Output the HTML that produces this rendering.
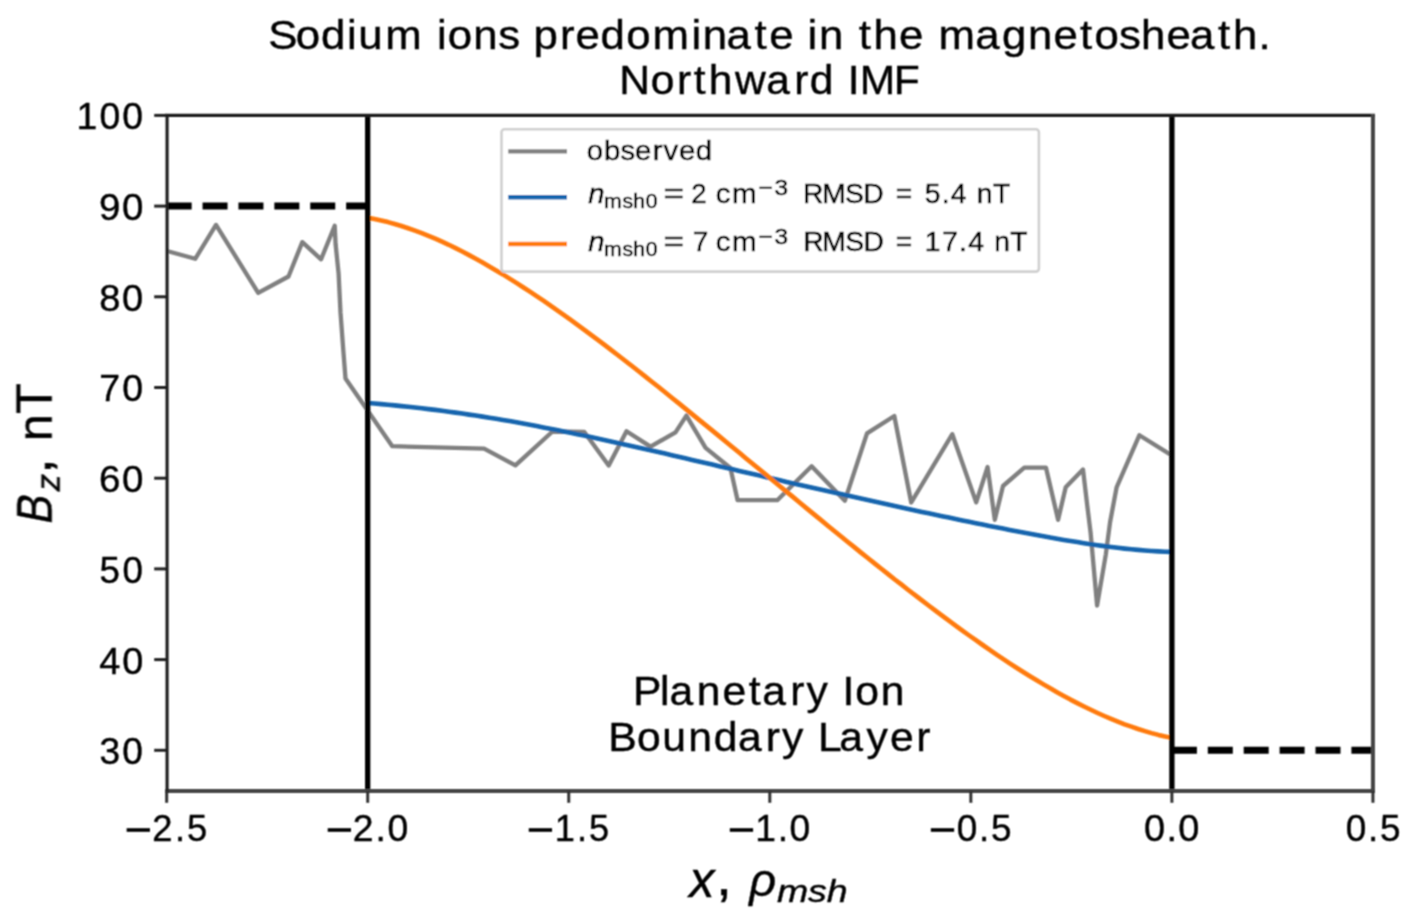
<!DOCTYPE html><html><head><meta charset="utf-8"><style>html,body{margin:0;padding:0;background:#fff;}svg{display:block;}text{font-family:"Liberation Sans",sans-serif;fill:#000;stroke:#000;stroke-width:0.4px;font-kerning:none;font-variant-ligatures:none;}.leg text{stroke-width:0.5px;}</style></head><body>
<svg width="1407" height="922" viewBox="0 0 1407 922">
<defs><filter id="soft" x="0" y="0" width="1407" height="922" filterUnits="userSpaceOnUse"><feConvolveMatrix order="3" kernelMatrix="1 2 1 2 4 2 1 2 1" divisor="16" edgeMode="duplicate"/></filter></defs>
<rect width="1407" height="922" fill="#fff"/>
<g filter="url(#soft)">
<text x="252.58 278.59 302.29 326.94 337.45 362.79 398.56 411.53 421.71 445.70 469.21 489.25 502.40 527.56 542.02 565.72 589.88 614.70 651.25 661.92 684.30 710.69 724.47 747.67 760.64 771.32 794.87 808.76 822.84 846.87 870.07 883.90 918.50 943.69 968.35 992.32 1017.21 1030.85 1054.02 1074.78 1098.81 1120.84 1147.23 1161.30 1185.27" y="49.30" transform="scale(1.0617,1)" font-size="41.24">Sodium ions predominate in the magnetosheath.</text>
<text x="601.62 632.05 657.71 673.91 688.63 713.95 744.29 771.47 786.59 810.91 823.63 835.13 868.16" y="94.10" transform="scale(1.0294,1)" font-size="41.32">Northward IMF</text>
<polyline points="167.0,251.0 195.2,258.8 216.0,224.9 258.2,292.9 288.5,276.5 302.3,242.1 321.1,259.3 334.7,225.7 335.6,244.3 338.6,273.6 340.5,312.7 343.4,351.7 345.5,378.5 392.3,446.2 484.1,448.6 515.4,465.4 552.5,431.5 584.3,432.0 608.7,465.6 626.5,431.2 650.5,446.6 675.5,432.4 686.4,415.6 705.6,447.9 730.4,468.0 737.6,500.2 777.3,500.2 811.6,466.3 844.9,500.7 867.0,433.4 894.3,416.0 911.2,502.5 952.3,434.2 976.2,502.4 987.6,467.0 994.8,519.8 1003.0,486.0 1024.3,467.7 1046.0,467.7 1058.1,519.8 1065.7,487.2 1083.0,469.5 1087.4,506.8 1090.6,532.8 1097.1,605.5 1105.8,554.5 1110.1,522.0 1116.6,487.3 1139.4,435.2 1171.0,455.0" fill="none" stroke="#808080" stroke-width="4.3" stroke-linejoin="round"/>
<polyline points="367.7,403.0 374.5,403.5 381.2,404.1 388.0,404.7 394.7,405.4 401.5,406.1 408.2,406.8 415.0,407.5 421.8,408.3 428.5,409.1 435.3,409.9 442.0,410.8 448.8,411.7 455.6,412.6 462.3,413.6 469.1,414.6 475.8,415.6 482.6,416.6 489.3,417.7 496.1,418.8 502.9,420.0 509.6,421.1 516.4,422.3 523.1,423.6 529.9,424.8 536.6,426.1 543.4,427.4 550.2,428.7 556.9,430.0 563.7,431.4 570.4,432.8 577.2,434.2 584.0,435.6 590.7,437.0 597.5,438.5 604.2,439.9 611.0,441.4 617.7,442.9 624.5,444.4 631.3,445.9 638.0,447.5 644.8,449.0 651.5,450.5 658.3,452.1 665.1,453.6 671.8,455.2 678.6,456.8 685.3,458.3 692.1,459.9 698.8,461.5 705.6,463.0 712.4,464.6 719.1,466.2 725.9,467.8 732.6,469.3 739.4,470.9 746.1,472.5 752.9,474.1 759.7,475.6 766.4,477.2 773.2,478.7 779.9,480.3 786.7,481.9 793.5,483.4 800.2,484.9 807.0,486.5 813.7,488.0 820.5,489.5 827.2,491.1 834.0,492.6 840.8,494.1 847.5,495.6 854.3,497.1 861.0,498.6 867.8,500.1 874.5,501.6 881.3,503.1 888.1,504.6 894.8,506.0 901.6,507.5 908.3,509.0 915.1,510.4 921.9,511.9 928.6,513.3 935.4,514.7 942.1,516.2 948.9,517.6 955.6,519.0 962.4,520.4 969.2,521.8 975.9,523.2 982.7,524.6 989.4,525.9 996.2,527.3 1003.0,528.6 1009.7,530.0 1016.5,531.3 1023.2,532.6 1030.0,533.8 1036.7,535.1 1043.5,536.3 1050.3,537.6 1057.0,538.7 1063.8,539.9 1070.5,541.0 1077.3,542.1 1084.0,543.2 1090.8,544.2 1097.6,545.2 1104.3,546.1 1111.1,547.0 1117.8,547.8 1124.6,548.6 1131.4,549.3 1138.1,549.9 1144.9,550.5 1151.6,551.0 1158.4,551.4 1165.1,551.7 1171.9,551.9" fill="none" stroke="#1465ae" stroke-width="4.6" stroke-linejoin="round"/>
<polyline points="367.7,217.8 374.5,219.1 381.2,220.5 388.0,222.1 394.7,224.0 401.5,226.0 408.2,228.2 415.0,230.6 421.8,233.1 428.5,235.8 435.3,238.7 442.0,241.7 448.8,244.8 455.6,248.1 462.3,251.5 469.1,255.1 475.8,258.7 482.6,262.5 489.3,266.4 496.1,270.4 502.9,274.4 509.6,278.6 516.4,282.9 523.1,287.2 529.9,291.7 536.6,296.2 543.4,300.7 550.2,305.4 556.9,310.1 563.7,314.9 570.4,319.7 577.2,324.6 584.0,329.6 590.7,334.6 597.5,339.6 604.2,344.7 611.0,349.9 617.7,355.0 624.5,360.3 631.3,365.5 638.0,370.8 644.8,376.1 651.5,381.5 658.3,386.8 665.1,392.2 671.8,397.7 678.6,403.1 685.3,408.6 692.1,414.1 698.8,419.6 705.6,425.1 712.4,430.6 719.1,436.1 725.9,441.7 732.6,447.2 739.4,452.8 746.1,458.4 752.9,464.0 759.7,469.5 766.4,475.1 773.2,480.7 779.9,486.3 786.7,491.9 793.5,497.4 800.2,503.0 807.0,508.6 813.7,514.1 820.5,519.6 827.2,525.2 834.0,530.7 840.8,536.2 847.5,541.7 854.3,547.1 861.0,552.6 867.8,558.0 874.5,563.4 881.3,568.8 888.1,574.1 894.8,579.5 901.6,584.7 908.3,590.0 915.1,595.2 921.9,600.4 928.6,605.5 935.4,610.7 942.1,615.7 948.9,620.7 955.6,625.7 962.4,630.6 969.2,635.5 975.9,640.2 982.7,645.0 989.4,649.7 996.2,654.3 1003.0,658.8 1009.7,663.3 1016.5,667.7 1023.2,672.0 1030.0,676.2 1036.7,680.3 1043.5,684.4 1050.3,688.3 1057.0,692.2 1063.8,695.9 1070.5,699.6 1077.3,703.1 1084.0,706.5 1090.8,709.8 1097.6,713.0 1104.3,716.0 1111.1,718.9 1117.8,721.6 1124.6,724.3 1131.4,726.7 1138.1,729.0 1144.9,731.1 1151.6,733.1 1158.4,734.9 1165.1,736.5 1171.9,737.9" fill="none" stroke="#ff7a0a" stroke-width="4.6" stroke-linejoin="round"/>
<line x1="166.65" y1="206.10" x2="367.70" y2="206.10" stroke="#000" stroke-width="7.0" stroke-dasharray="25.0 10.9"/>
<line x1="1171.90" y1="750.30" x2="1372.95" y2="750.30" stroke="#000" stroke-width="7.0" stroke-dasharray="25.0 10.9"/>
<line x1="367.70" y1="115.4" x2="367.70" y2="790.9" stroke="#000" stroke-width="5.3"/>
<line x1="1171.90" y1="115.4" x2="1171.90" y2="790.9" stroke="#000" stroke-width="5.3"/>
<line x1="165.15" y1="115.4" x2="1374.95" y2="115.4" stroke="#1c1c1c" stroke-width="3.1"/>
<line x1="165.15" y1="790.9" x2="1374.95" y2="790.9" stroke="#444" stroke-width="4.0"/>
<line x1="167.1" y1="113.9" x2="167.1" y2="792.9" stroke="#1c1c1c" stroke-width="3.1"/>
<line x1="1372.95" y1="113.9" x2="1372.95" y2="792.9" stroke="#444" stroke-width="4.0"/>
<line x1="154.2" y1="750.30" x2="166.65" y2="750.30" stroke="#222" stroke-width="3.0"/>
<text x="97.48 119.80" y="764.30" transform="scale(1.0212,1)" font-size="36.33">30</text>
<line x1="154.2" y1="659.60" x2="166.65" y2="659.60" stroke="#222" stroke-width="3.0"/>
<text x="95.30 117.23" y="673.60" transform="scale(1.0418,1)" font-size="36.33">40</text>
<line x1="154.2" y1="568.90" x2="166.65" y2="568.90" stroke="#222" stroke-width="3.0"/>
<text x="98.21 120.91" y="582.90" transform="scale(1.0126,1)" font-size="36.33">50</text>
<line x1="154.2" y1="478.20" x2="166.65" y2="478.20" stroke="#222" stroke-width="3.0"/>
<text x="93.53 115.09" y="492.20" transform="scale(1.0596,1)" font-size="36.33">60</text>
<line x1="154.2" y1="387.50" x2="166.65" y2="387.50" stroke="#222" stroke-width="3.0"/>
<text x="96.38 118.61" y="401.50" transform="scale(1.0307,1)" font-size="36.33">70</text>
<line x1="154.2" y1="296.80" x2="166.65" y2="296.80" stroke="#222" stroke-width="3.0"/>
<text x="94.75 116.56" y="310.80" transform="scale(1.0473,1)" font-size="36.33">80</text>
<line x1="154.2" y1="206.10" x2="166.65" y2="206.10" stroke="#222" stroke-width="3.0"/>
<text x="93.53 115.21" y="220.10" transform="scale(1.0586,1)" font-size="36.33">90</text>
<line x1="154.2" y1="115.40" x2="166.65" y2="115.40" stroke="#222" stroke-width="3.0"/>
<text x="74.39 96.81 119.04" y="129.40" transform="scale(1.0272,1)" font-size="36.33">100</text>
<line x1="166.65" y1="790.9" x2="166.65" y2="802.8" stroke="#333" stroke-width="3.0"/>
<rect x="126.65" y="828.2" width="23.3" height="3.6" fill="#000"/>
<text x="152.27 174.91 186.84" y="841.00" transform="scale(1.0005,1)" font-size="36.33">2.5</text>
<line x1="367.70" y1="790.9" x2="367.70" y2="802.8" stroke="#333" stroke-width="3.0"/>
<rect x="327.70" y="828.2" width="23.3" height="3.6" fill="#000"/>
<text x="343.26 365.43 377.05" y="841.00" transform="scale(1.0276,1)" font-size="36.33">2.0</text>
<line x1="568.75" y1="790.9" x2="568.75" y2="802.8" stroke="#333" stroke-width="3.0"/>
<rect x="528.75" y="828.2" width="23.3" height="3.6" fill="#000"/>
<text x="556.77 579.18 591.18" y="841.00" transform="scale(0.9964,1)" font-size="36.33">1.5</text>
<line x1="769.80" y1="790.9" x2="769.80" y2="802.8" stroke="#333" stroke-width="3.0"/>
<rect x="729.80" y="828.2" width="23.3" height="3.6" fill="#000"/>
<text x="737.28 759.22 770.90" y="841.00" transform="scale(1.0243,1)" font-size="36.33">1.0</text>
<line x1="970.85" y1="790.9" x2="970.85" y2="802.8" stroke="#333" stroke-width="3.0"/>
<rect x="930.85" y="828.2" width="23.3" height="3.6" fill="#000"/>
<text x="940.19 962.06 973.71" y="841.00" transform="scale(1.0177,1)" font-size="36.33">0.5</text>
<line x1="1171.90" y1="790.9" x2="1171.90" y2="802.8" stroke="#333" stroke-width="3.0"/>
<text x="1095.67 1117.11 1128.47" y="841.00" transform="scale(1.0442,1)" font-size="36.33">0.0</text>
<line x1="1372.95" y1="790.9" x2="1372.95" y2="802.8" stroke="#333" stroke-width="3.0"/>
<text x="1322.39 1344.27 1355.91" y="841.00" transform="scale(1.0177,1)" font-size="36.33">0.5</text>
<rect x="501.5" y="129.2" width="537.4" height="142.4" rx="3" ry="3" fill="#fff" fill-opacity="0.85" stroke="#d0d0d0" stroke-width="2.6"/>
<line x1="508.2" y1="151.4" x2="567" y2="151.4" stroke="#808080" stroke-width="4.3"/>
<line x1="508.2" y1="197.3" x2="567" y2="197.3" stroke="#1465ae" stroke-width="4.6"/>
<line x1="508.2" y1="244" x2="567" y2="244" stroke="#ff7a0a" stroke-width="4.6"/>
<g class="leg">
<text x="550.49 566.54 582.08 595.67 612.26 622.28 636.96 652.71" y="159.80" transform="scale(1.0661,1)" font-size="27.52">observed</text>
<text x="554.06" y="203.10" transform="scale(1.0615,1)" font-size="27.52" font-style="italic">n</text>
<text x="571.54 588.95 599.07 610.94" y="207.90" transform="scale(1.0569,1)" font-size="20.02">msh0</text>
<text x="521.09" y="203.10" transform="scale(1.2733,1)" font-size="27.52">=</text>
<text x="688.38" y="203.10" transform="scale(1.0041,1)" font-size="27.52">2</text>
<text x="666.05 681.12" y="203.10" transform="scale(1.0748,1)" font-size="27.52">cm</text>
<text x="666.21 680.31" y="195.30" transform="scale(1.1385,1)" font-size="21.53">−3</text>
<text x="783.21 801.92 824.20 841.98 862.08 873.59 892.74 901.84 918.42 927.25 943.35 952.59 968.30" y="203.10" transform="scale(1.0254,1)" font-size="27.52">RMSD = 5.4 nT</text>
<text x="554.06" y="251.50" transform="scale(1.0615,1)" font-size="27.52" font-style="italic">n</text>
<text x="571.54 588.95 599.07 610.94" y="256.30" transform="scale(1.0569,1)" font-size="20.02">msh0</text>
<text x="521.09" y="251.50" transform="scale(1.2733,1)" font-size="27.52">=</text>
<text x="679.84" y="251.50" transform="scale(1.0190,1)" font-size="27.52">7</text>
<text x="666.05 681.12" y="251.50" transform="scale(1.0748,1)" font-size="27.52">cm</text>
<text x="666.21 680.31" y="243.70" transform="scale(1.1385,1)" font-size="21.53">−3</text>
<text x="782.64 801.33 823.60 841.36 861.46 872.96 892.09 901.15 918.10 934.62 943.44 959.54 968.77 984.46" y="251.50" transform="scale(1.0262,1)" font-size="27.52">RMSD = 17.4 nT</text>
</g>
<text x="617.56 643.77 653.18 679.73 704.75 730.53 743.48 770.91 786.74 808.99 821.86 834.25 859.28" y="705.40" transform="scale(1.0251,1)" font-size="41.56">Planetary Ion</text>
<text x="586.76 614.61 638.97 664.03 688.62 711.87 738.81 754.30 776.22 789.01 809.69 835.96 858.60 884.02" y="751.30" transform="scale(1.0366,1)" font-size="41.19">Boundary Layer</text>
<text transform="translate(689.33,897.20) scale(1.0009,1)" font-size="50.54" font-style="italic">x</text>
<text transform="translate(715.69,895.13) scale(1.0843,1)" font-size="54.50">,</text>
<text transform="translate(749.25,895.71) scale(1.0062,1)" font-size="46.67" font-style="italic">ρ</text>
<text transform="translate(776.88,901.89) scale(1.1819,1)" font-size="31.73" font-style="italic">msh</text>
<g transform="translate(51.6,523) rotate(-90)">
<text transform="translate(-2.87,-0.30) scale(0.8756,1) skewX(-12.49)" font-size="49.71">B</text>
<text transform="translate(30.10,7.90) scale(1.0108,1) skewX(-10.86)" font-size="34.07">z</text>
<text transform="translate(48.69,-1.15) scale(1.1377,1)" font-size="51.95">,</text>
<text transform="translate(81.76,-0.50) scale(1.0124,1)" font-size="48.13">n</text>
<text transform="translate(108.97,-0.50) scale(1.0169,1)" font-size="49.56">T</text>
</g>
</g>
</svg></body></html>
